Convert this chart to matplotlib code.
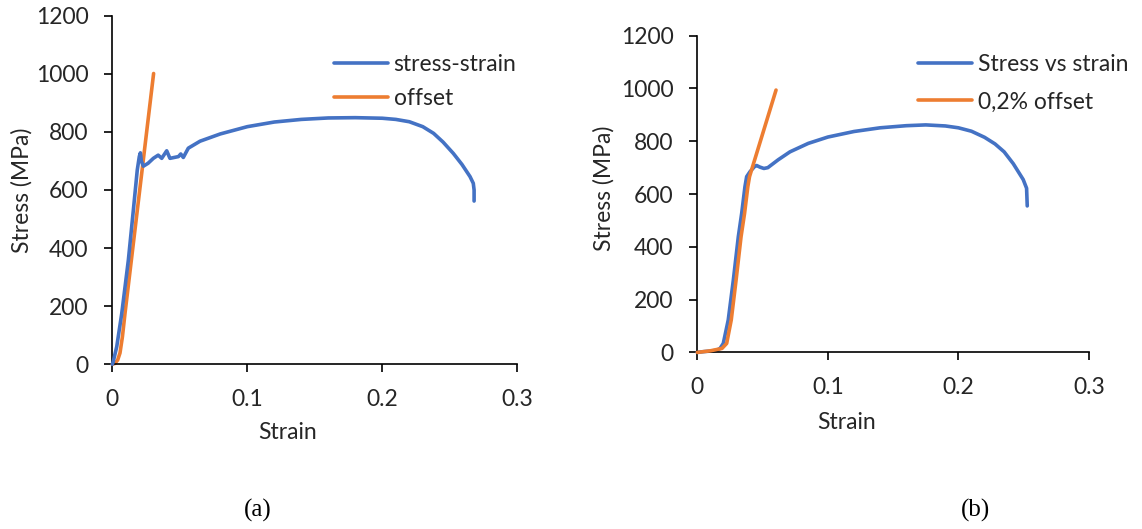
import matplotlib
matplotlib.use("Agg")
import matplotlib.pyplot as plt

# ---- data: panel (a) ----
a_strain = [0.0, 0.0007, 0.0033, 0.007, 0.0119, 0.0156, 0.0185, 0.020, 0.0208, 0.0215, 0.023,
            0.0265, 0.0304, 0.034, 0.0366, 0.0403, 0.0427, 0.049, 0.0507, 0.0526, 0.0563,
            0.065, 0.08, 0.10, 0.12, 0.14, 0.16, 0.18, 0.20, 0.21, 0.22, 0.23, 0.238,
            0.245, 0.2526, 0.259, 0.265, 0.2674, 0.268, 0.268]
a_stress = [0, 9, 61, 175, 359, 531, 669, 715, 728, 700, 682,
            692, 709, 720, 709, 735, 709, 715, 724, 712, 744,
            768, 793, 818, 834, 843, 848, 849, 847, 843, 835, 818, 795,
            765, 726, 688, 646, 623, 600, 562]
a_off_strain = [0.0, 0.002, 0.004, 0.0057, 0.0075, 0.0094, 0.0306]
a_off_stress = [0, 3, 15, 39, 95, 175, 1001]

# ---- data: panel (b) ----
b_strain = [0.0, 0.005, 0.01, 0.015, 0.0174, 0.0199, 0.0237, 0.0276, 0.0314, 0.034, 0.0365,
            0.0378, 0.0404, 0.0442, 0.0455, 0.048, 0.051, 0.054, 0.058, 0.062, 0.071,
            0.085, 0.10, 0.12, 0.14, 0.16, 0.175, 0.19, 0.20, 0.21, 0.22, 0.228, 0.235,
            0.242, 0.2496, 0.2522, 0.2527]
b_stress = [0, 3, 5, 8, 15, 34, 123, 274, 438, 527, 628,
            666, 685, 706, 708, 702, 697, 700, 715, 730, 760,
            792, 816, 837, 851, 859, 862, 858, 851, 838, 815, 790, 760,
            715, 655, 622, 555]
b_off_strain = [0.0, 0.01, 0.0189, 0.0225, 0.026, 0.0297, 0.0335, 0.0362, 0.0387, 0.040, 0.0603]
b_off_stress = [0, 6, 15, 34, 123, 274, 438, 527, 628, 666, 994]

x_ticks = [0, 0.1, 0.2, 0.3]
x_ticklabels = ["0", "0.1", "0.2", "0.3"]
y_ticks = [0, 200, 400, 600, 800, 1000, 1200]

BLUE = "#4472C4"
ORANGE = "#ED7D31"
FONT = "Lato"
FS = 16.5
TXT = "#262626"

fig = plt.figure(figsize=(11.42, 5.29), dpi=100)
W, H = 1142, 529


def make_ax(x0, x1, y0, y1):
    return fig.add_axes([x0 / W, 1 - y0 / H, (x1 - x0) / W, (y0 - y1) / H])


def style(ax, ylab_x, ylab_y, xlab_x, xlab_y):
    for s in ("top", "right"):
        ax.spines[s].set_visible(False)
    for s in ("left", "bottom"):
        ax.spines[s].set_linewidth(1.2)
        ax.spines[s].set_color("black")
    ax.set_xlim(0, 0.3)
    ax.set_ylim(0, 1200)
    ax.set_xticks(x_ticks)
    ax.set_xticklabels(x_ticklabels)
    ax.set_yticks(y_ticks)
    ax.tick_params(axis="both", direction="out", length=6, width=1.2, labelsize=FS,
                   color="black", labelcolor=TXT)
    ax.tick_params(axis="y", pad=11)
    ax.tick_params(axis="x", pad=12)
    for lab in ax.get_xticklabels() + ax.get_yticklabels():
        lab.set_fontfamily(FONT)
    ax.set_ylabel("Stress (MPa)", fontsize=FS, fontfamily=FONT, color=TXT)
    ax.set_xlabel("Strain", fontsize=FS, fontfamily=FONT, color=TXT)
    ax.yaxis.set_label_coords(ylab_x, ylab_y)
    ax.xaxis.set_label_coords(xlab_x, xlab_y)
    for sp in ax.spines.values():
        sp.set_clip_on(False)


# panel (a)
axa = make_ax(112.3, 517.3, 364.3, 15.7)
axa.plot(a_strain, a_stress, color=BLUE, lw=2.6, label="stress-strain", solid_capstyle="round",
         clip_on=False, zorder=3)
axa.plot(a_off_strain, a_off_stress, color=ORANGE, lw=2.6, label="offset", solid_capstyle="round",
         clip_on=False, zorder=2)
style(axa, -0.196, 0.5, 0.434, -0.165)
axa.legend(loc="upper left", bbox_to_anchor=(334 / W, 1 - 54 / H), bbox_transform=fig.transFigure,
           frameon=False, prop={"family": FONT, "size": FS}, handlelength=2.35,
           handletextpad=0.25, labelspacing=0.55, borderpad=0, borderaxespad=0,
           labelcolor=TXT)

# panel (b)
axb = make_ax(697.3, 1089.0, 352.4, 35.7)
axb.plot(b_strain, b_stress, color=BLUE, lw=2.6, label="Stress vs strain", solid_capstyle="round",
         clip_on=False, zorder=2)
axb.plot(b_off_strain, b_off_stress, color=ORANGE, lw=2.6, label="0,2% offset", solid_capstyle="round",
         clip_on=False, zorder=3)
style(axb, -0.21, 0.517, 0.381, -0.187)
axb.legend(loc="upper left", bbox_to_anchor=(918 / W, 1 - 54 / H), bbox_transform=fig.transFigure,
           frameon=False, prop={"family": FONT, "size": FS}, handlelength=2.35,
           handletextpad=0.25, labelspacing=0.72, borderpad=0, borderaxespad=0,
           labelcolor=TXT)

fig.text(258 / W, 1 - 510 / H, "(a)", fontfamily="Liberation Serif", fontsize=18,
         ha="center", va="center")
fig.text(975 / W, 1 - 510 / H, "(b)", fontfamily="Liberation Serif", fontsize=18,
         ha="center", va="center")

fig.savefig("out.png", dpi=100)
